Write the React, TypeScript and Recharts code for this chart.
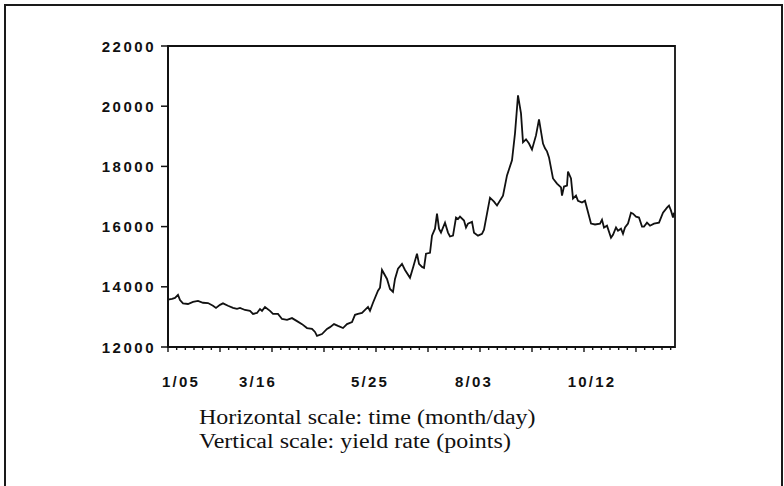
import React from 'react';
import { LineChart, Line, XAxis, YAxis, ReferenceArea } from 'recharts';

// trading-day position of each sampled point (Jan 5 = 0)
const days = [
  0, 2, 3.5, 5, 6, 7.5, 10, 12.5, 15, 17.5, 20, 22.5, 24, 26, 27.5, 30, 32.5, 34.5, 36, 38.5,
  41, 42.5, 44.5, 46, 47, 48.5, 51, 52.5, 55, 57, 59.5, 62, 64.5, 67, 69.5, 72, 73.5, 74.5, 77, 79.5,
  81, 83, 85, 87.5, 89.5, 92, 93.5, 95, 97, 100, 101, 102.5, 105, 106, 107, 109.5, 111, 112.5, 113.5, 115,
  117, 118.5, 121, 122.5, 124.5, 125.5, 127, 128, 129, 131, 132, 133.5, 134.5, 135.5, 136.5, 138.5, 140, 141, 142.5, 144,
  145, 146, 148, 149, 150, 152, 153, 155, 157, 158, 159.5, 161, 163, 164.5, 167.5, 169.5, 172, 173.5, 175, 176.5,
  177.5, 179, 180.5, 182, 184, 185.5, 187.5, 188.5, 189.5, 190.5, 192.5, 194.5, 196.5, 197, 198, 199.5, 200, 201.5, 202.5, 204,
  205, 207, 208.5, 211.5, 213.5, 216, 217, 218, 219.5, 221.5, 222.5, 224, 225, 226.5, 227.5, 228.5, 230, 231.5, 232.5, 234,
  235.5, 237, 238, 239.5, 241, 243, 245.5, 247.5, 249.5, 250.5, 251.5, 252.5, 253,
];

// index level (points)
const values = [
  13570, 13600, 13630, 13730, 13560, 13450, 13430, 13500, 13530, 13470, 13460, 13370, 13300, 13400, 13450, 13370, 13300, 13270, 13300, 13230,
  13200, 13100, 13130, 13260, 13200, 13330, 13200, 13100, 13100, 12930, 12900, 12960, 12860, 12760, 12630, 12600, 12500, 12370, 12430, 12600,
  12660, 12760, 12700, 12630, 12760, 12830, 13070, 13100, 13130, 13330, 13200, 13470, 13870, 13970, 14560, 14260, 13930, 13830, 14260, 14600,
  14760, 14560, 14300, 14630, 15100, 14760, 14660, 14630, 15100, 15130, 15700, 15930, 16430, 15930, 15800, 16130, 15800, 15670, 15700, 16300,
  16250, 16330, 16200, 15970, 16100, 16160, 15800, 15700, 15760, 15900, 16430, 16960, 16830, 16700, 17030, 17700, 18200, 19100, 20360, 19760,
  18800, 18900, 18760, 18560, 19030, 19560, 18760, 18600, 18500, 18300, 17600, 17430, 17300, 17030, 17330, 17360, 17830, 17600, 16930, 17030,
  16860, 16800, 16860, 16100, 16070, 16100, 16230, 15970, 16030, 15630, 15730, 15970, 15860, 15930, 15760, 15970, 16100, 16460, 16430, 16330,
  16300, 16000, 16000, 16130, 16030, 16100, 16130, 16460, 16630, 16700, 16530, 16300, 16460,
];

const yTicks = [12000, 14000, 16000, 18000, 20000, 22000];
const dateLabels = ['1/05', '3/16', '5/25', '8/03', '10/12'];
const labelDays = [6.5, 45, 101, 153, 212];
const minorStep = 13 / 3;
const minorCount = 59;
const xMax = 253.5;

const data = days.map((d, i) => ({ day: d, value: values[i] }));
const minorTicks = Array.from({ length: minorCount }, (_, k) => k * minorStep);
const xTicks = [...minorTicks, ...labelDays].sort((a, b) => a - b);

const INK = '#111';

const XTick = (props: any) => {
  const { x, y, payload } = props;
  const li = labelDays.indexOf(payload.value);
  if (li >= 0) {
    return (
      <text
        x={x}
        y={y + 34}
        textAnchor="middle"
        dominantBaseline="central"
        fontFamily="'Liberation Sans', Arial, sans-serif"
        fontWeight="bold"
        fontSize={15}
        letterSpacing={2.2}
        fill={INK}
      >
        {dateLabels[li]}
      </text>
    );
  }
  const k = Math.round(payload.value / minorStep);
  const major = k % 6 === 0;
  return <line x1={x} x2={x} y1={y} y2={y + (major ? 5 : 3)} stroke={INK} strokeWidth={1.4} />;
};

const YTick = (props: any) => {
  const { x, y, payload } = props;
  return (
    <text
      x={x}
      y={y}
      textAnchor="end"
      dominantBaseline="central"
      fontFamily="'Liberation Sans', Arial, sans-serif"
      fontWeight="bold"
      fontSize={15}
      letterSpacing={2.5}
      fill={INK}
    >
      {payload.value}
    </text>
  );
};

export default function App() {
  return (
    <div
      style={{
        position: 'fixed',
        left: 0,
        top: 0,
        width: 784,
        height: 486,
        background: '#fff',
        overflow: 'hidden',
      }}
    >
      <div
        style={{
          position: 'absolute',
          left: 4,
          top: 4,
          width: 775,
          height: 500,
          border: '2px solid #1a1a1a',
        }}
      />
      <div style={{ position: 'absolute', left: 0, top: 0 }}>
        <LineChart
          width={784}
          height={486}
          data={data}
          margin={{ top: 46, right: 109, bottom: 129, left: 0 }}
        >
          <ReferenceArea
            x1={0}
            x2={xMax}
            y1={12000}
            y2={22000}
            fill="none"
            fillOpacity={0}
            stroke={INK}
            strokeWidth={1.8}
          />
          <XAxis
            dataKey="day"
            type="number"
            domain={[0, xMax]}
            ticks={xTicks}
            interval={0}
            tickSize={0}
            tickMargin={0}
            tickLine={false}
            height={10}
            axisLine={{ stroke: INK, strokeWidth: 2 }}
            tick={<XTick />}
          />
          <YAxis
            type="number"
            domain={[12000, 22000]}
            ticks={yTicks}
            interval={0}
            width={168}
            tickSize={7}
            tickMargin={5}
            tickLine={{ stroke: INK, strokeWidth: 1.5 }}
            axisLine={{ stroke: INK, strokeWidth: 2 }}
            tick={<YTick />}
          />
          <Line
            type="linear"
            dataKey="value"
            stroke={INK}
            strokeWidth={1.8}
            dot={false}
            isAnimationActive={false}
          />
        </LineChart>
      </div>
      <div
        style={{
          position: 'absolute',
          left: 199,
          top: 405,
          fontFamily: "'Liberation Serif', 'Times New Roman', serif",
          fontSize: 20,
          lineHeight: '24px',
          color: INK,
          transform: 'scaleX(1.2)',
          transformOrigin: 'left top',
          whiteSpace: 'nowrap',
        }}
      >
        <div>Horizontal scale: time (month/day)</div>
        <div>Vertical scale: yield rate (points)</div>
      </div>
    </div>
  );
}
